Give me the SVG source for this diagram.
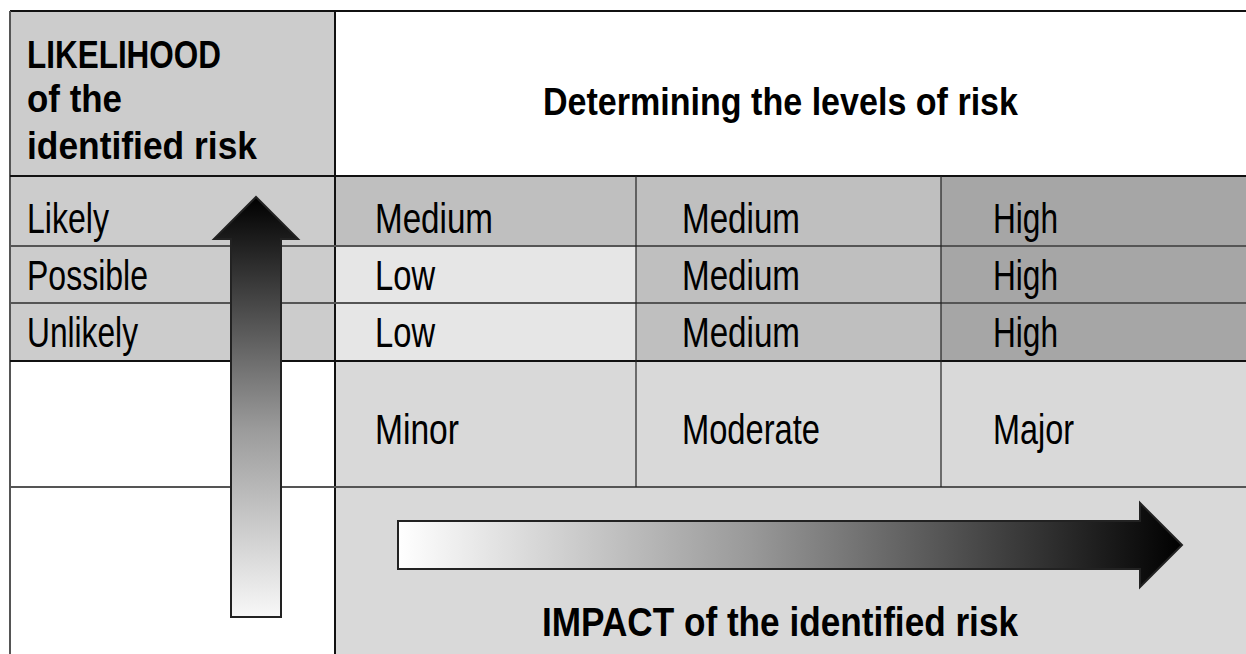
<svg xmlns="http://www.w3.org/2000/svg" width="1246" height="654" viewBox="0 0 1246 654">
<defs>
<linearGradient id="gv" x1="0" y1="1" x2="0" y2="0">
<stop offset="0" stop-color="#f8f8f8"/>
<stop offset="0.45" stop-color="#9a9a9a"/>
<stop offset="1" stop-color="#000"/>
</linearGradient>
<linearGradient id="gh" gradientUnits="userSpaceOnUse" x1="398" y1="0" x2="1182" y2="0">
<stop offset="0" stop-color="#fff"/>
<stop offset="0.45" stop-color="#999"/>
<stop offset="1" stop-color="#000"/>
</linearGradient>
<style>
.r{font-family:"Liberation Sans Narrow","Liberation Sans",Arial,sans-serif;font-size:43px;fill:#000}
.b{font-family:"Liberation Sans Narrow","Liberation Sans",Arial,sans-serif;font-size:39px;font-weight:bold;fill:#000}
.med{fill:#bfbfbf}.low{fill:#e6e6e6}.high{fill:#a6a6a6}.lab{fill:#cccccc}.bot{fill:#d9d9d9}
.ln{stroke:#111;stroke-width:2;fill:none}
.lg{stroke:#555;stroke-width:2;fill:none}
.lt{stroke:#222;stroke-width:1.2;fill:none}
</style>
</defs>
<rect width="1246" height="654" fill="#fff"/>

<g id="header-likelihood">
<rect class="lab" x="10" y="11" width="325" height="165"/>
<text class="b" x="27" y="68" textLength="194" lengthAdjust="spacingAndGlyphs">LIKELIHOOD</text>
<text class="b" x="27" y="112" textLength="95" lengthAdjust="spacingAndGlyphs">of the</text>
<text class="b" x="27" y="159" textLength="230" lengthAdjust="spacingAndGlyphs">identified risk</text>
</g>
<g id="title">
<text class="b" x="543" y="115" textLength="475" lengthAdjust="spacingAndGlyphs">Determining the levels of risk</text>
</g>

<g id="row-labels">
<rect class="lab" x="10" y="176" width="325" height="185"/>
<text class="r" x="27" y="233" textLength="82" lengthAdjust="spacingAndGlyphs">Likely</text>
<text class="r" x="27" y="290" textLength="121" lengthAdjust="spacingAndGlyphs">Possible</text>
<text class="r" x="27" y="347" textLength="111" lengthAdjust="spacingAndGlyphs">Unlikely</text>
</g>

<g id="cells">
<rect class="med" x="335" y="176" width="301" height="70"/>
<rect class="low" x="335" y="246" width="301" height="115"/>
<rect class="med" x="636" y="176" width="305" height="185"/>
<rect class="high" x="941" y="176" width="305" height="185"/>
<text class="r" x="375" y="233" textLength="118" lengthAdjust="spacingAndGlyphs">Medium</text>
<text class="r" x="375" y="290" textLength="60" lengthAdjust="spacingAndGlyphs">Low</text>
<text class="r" x="375" y="347" textLength="60" lengthAdjust="spacingAndGlyphs">Low</text>
<text class="r" x="682" y="233" textLength="118" lengthAdjust="spacingAndGlyphs">Medium</text>
<text class="r" x="682" y="290" textLength="118" lengthAdjust="spacingAndGlyphs">Medium</text>
<text class="r" x="682" y="347" textLength="118" lengthAdjust="spacingAndGlyphs">Medium</text>
<text class="r" x="993" y="233" textLength="65" lengthAdjust="spacingAndGlyphs">High</text>
<text class="r" x="993" y="290" textLength="65" lengthAdjust="spacingAndGlyphs">High</text>
<text class="r" x="993" y="347" textLength="65" lengthAdjust="spacingAndGlyphs">High</text>
</g>

<g id="impact-levels">
<rect class="bot" x="335" y="361" width="911" height="293"/>
<text class="r" x="375" y="444" textLength="84" lengthAdjust="spacingAndGlyphs">Minor</text>
<text class="r" x="682" y="444" textLength="138" lengthAdjust="spacingAndGlyphs">Moderate</text>
<text class="r" x="993" y="444" textLength="81" lengthAdjust="spacingAndGlyphs">Major</text>
</g>

<g id="grid">
<line class="ln" x1="10" y1="11" x2="1246" y2="11"/>
<line class="lg" x1="10" y1="11" x2="10" y2="654"/>
<line class="ln" x1="335" y1="11" x2="335" y2="654"/>
<line class="ln" x1="10" y1="176" x2="1246" y2="176"/>
<line class="lg" x1="10" y1="246" x2="1246" y2="246"/>
<line class="lg" x1="10" y1="303" x2="1246" y2="303"/>
<line class="ln" x1="10" y1="361" x2="1246" y2="361"/>
<line class="lg" x1="10" y1="487" x2="1246" y2="487"/>
<line class="lt" x1="636" y1="176" x2="636" y2="487"/>
<line class="lt" x1="941" y1="176" x2="941" y2="487"/>
</g>

<g id="arrows">
<path d="M231,617 L231,239 L214,239 L256,197 L298,239 L281,239 L281,617 Z" fill="url(#gv)" stroke="#222" stroke-width="2" stroke-linejoin="miter"/>
<path d="M398,521 L1140,521 L1140,503 L1182,545 L1140,587 L1140,569 L398,569 Z" fill="url(#gh)" stroke="#222" stroke-width="2"/>
</g>

<g id="impact-label">
<text class="b" x="542" y="636" style="font-size:41px" textLength="476" lengthAdjust="spacingAndGlyphs">IMPACT of the identified risk</text>
</g>
</svg>
